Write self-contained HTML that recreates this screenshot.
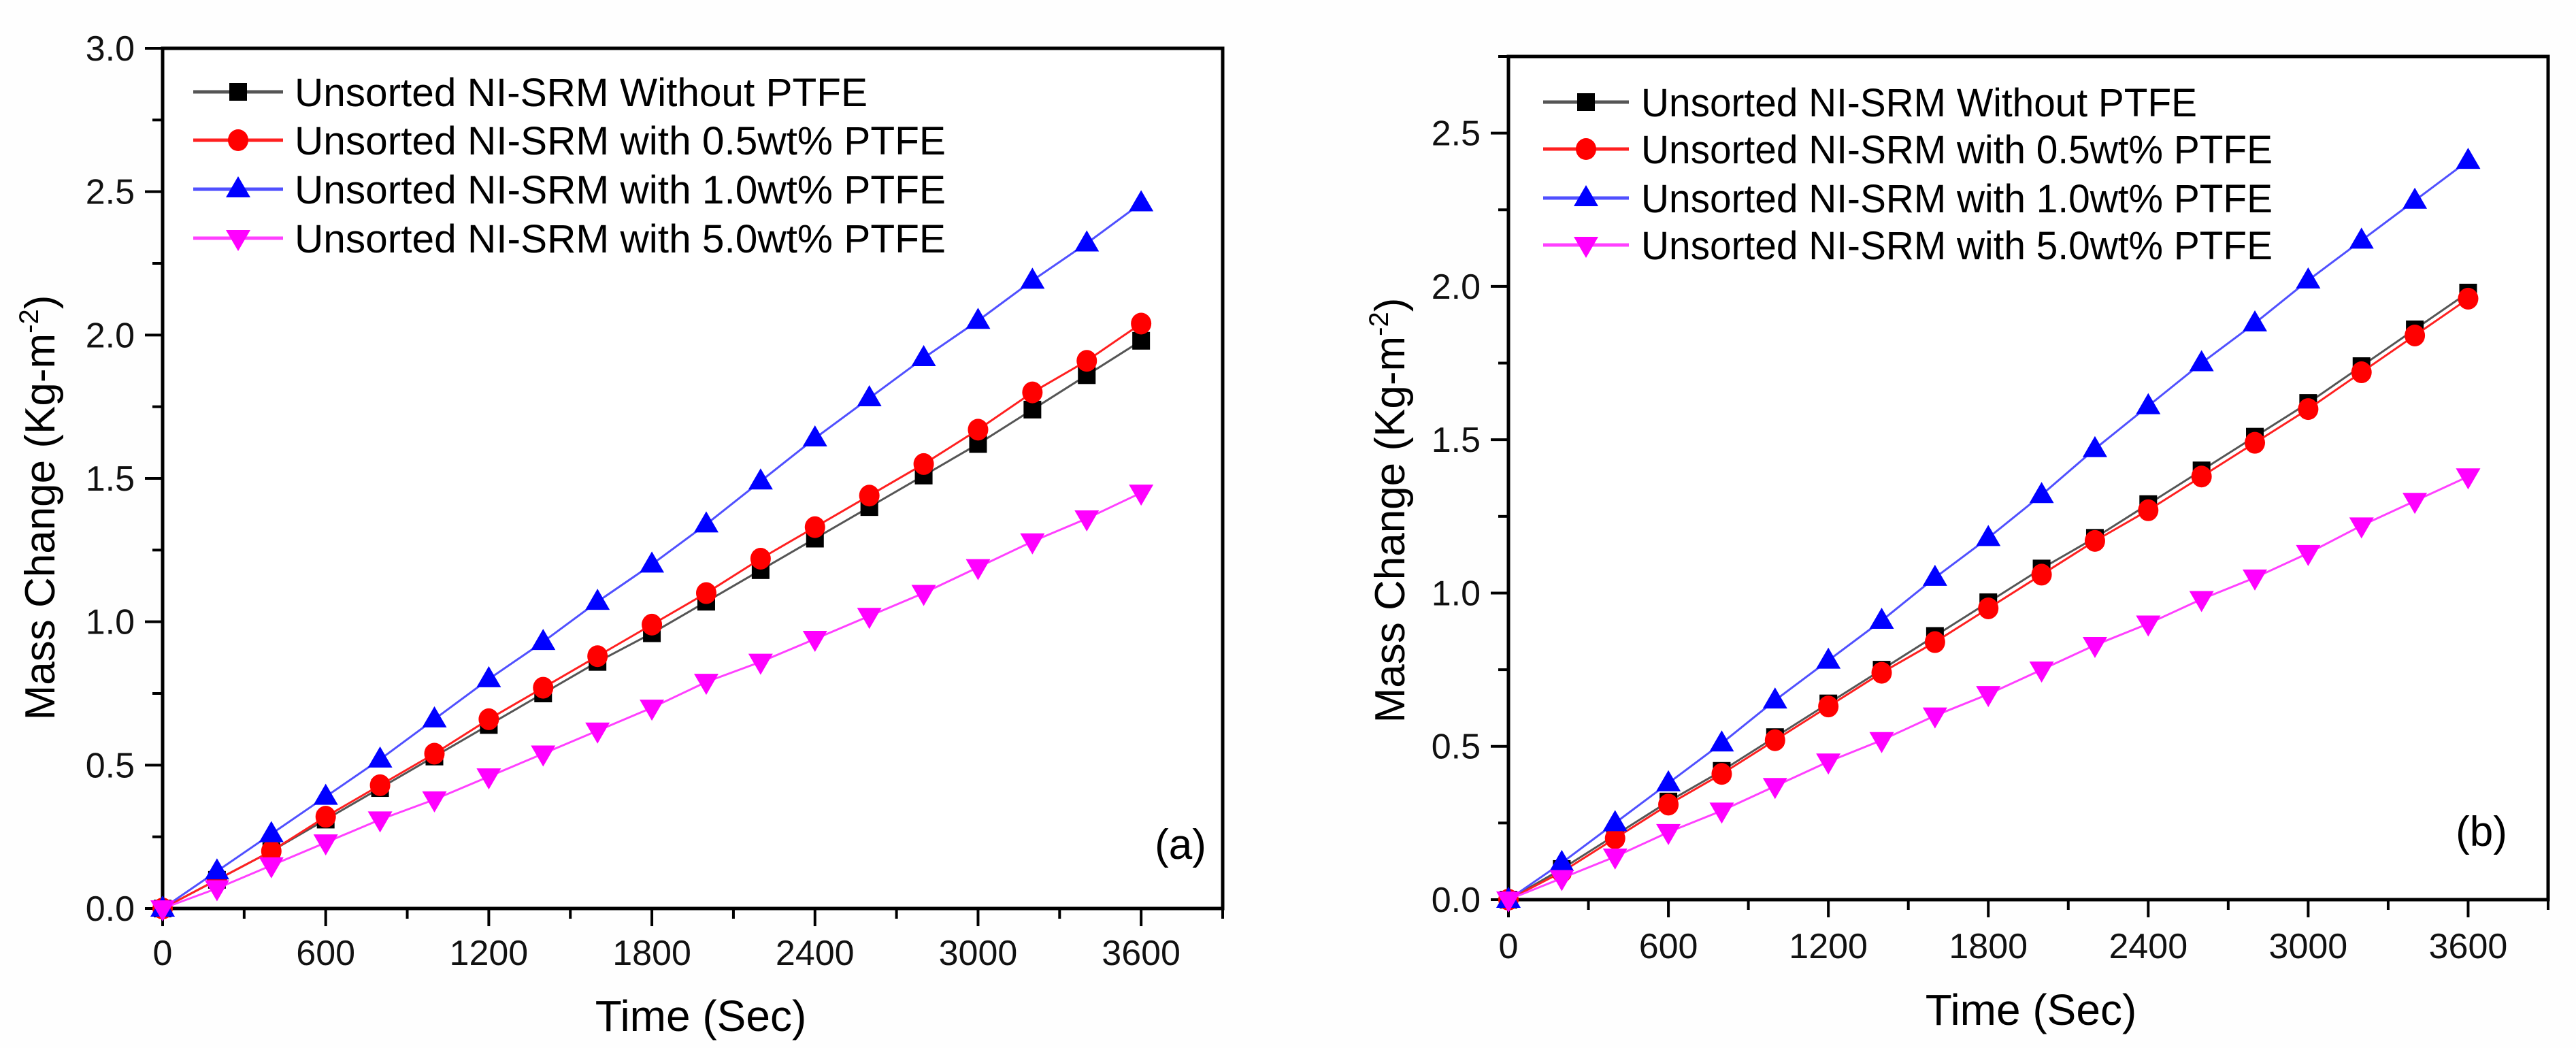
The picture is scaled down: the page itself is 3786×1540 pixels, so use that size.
<!DOCTYPE html>
<html><head><meta charset="utf-8">
<style>
html,body{margin:0;padding:0;background:#fff;}
svg{display:block;font-family:"Liberation Sans",Arial,sans-serif;}
</style></head>
<body>
<svg id="fig" width="3786" height="1540" viewBox="0 0 3786 1540" xmlns="http://www.w3.org/2000/svg">
<rect width="3786" height="1540" fill="#fefefe"/>
</svg>
<script>
const xValues = [0,200,400,600,800,1000,1200,1400,1600,1800,2000,2200,2400,2600,2800,3000,3200,3400,3600];
const xTicks = [0,600,1200,1800,2400,3000,3600];
const seriesNames = ["Unsorted NI-SRM Without PTFE","Unsorted NI-SRM with 0.5wt% PTFE","Unsorted NI-SRM with 1.0wt% PTFE","Unsorted NI-SRM with 5.0wt% PTFE"];
const aBlack = [0,0.10,0.20,0.31,0.42,0.53,0.64,0.75,0.86,0.96,1.07,1.18,1.29,1.40,1.51,1.62,1.74,1.86,1.98];
const aRed = [0,0.10,0.20,0.32,0.43,0.54,0.66,0.77,0.88,0.99,1.10,1.22,1.33,1.44,1.55,1.67,1.80,1.91,2.04];
const aBlue = [0,0.13,0.26,0.39,0.52,0.66,0.80,0.93,1.07,1.20,1.34,1.49,1.64,1.78,1.92,2.05,2.19,2.32,2.46];
const aMagenta = [0,0.07,0.15,0.23,0.31,0.38,0.46,0.54,0.62,0.70,0.79,0.86,0.94,1.02,1.10,1.19,1.28,1.36,1.45];
const bBlack = [0,0.10,0.21,0.32,0.42,0.53,0.64,0.75,0.86,0.97,1.08,1.18,1.29,1.40,1.51,1.62,1.74,1.86,1.98];
const bRed = [0,0.09,0.20,0.31,0.41,0.52,0.63,0.74,0.84,0.95,1.06,1.17,1.27,1.38,1.49,1.60,1.72,1.84,1.96];
const bBlue = [0,0.12,0.25,0.38,0.51,0.65,0.78,0.91,1.05,1.18,1.32,1.47,1.61,1.75,1.88,2.02,2.15,2.28,2.41];
const bMagenta = [0,0.07,0.14,0.22,0.29,0.37,0.45,0.52,0.60,0.67,0.75,0.83,0.90,0.98,1.05,1.13,1.22,1.30,1.38];
const aYTicks = ["0.0","0.5","1.0","1.5","2.0","2.5","3.0"];
const bYTicks = ["0.0","0.5","1.0","1.5","2.0","2.5"];

const NS="http://www.w3.org/2000/svg";
const svg=document.getElementById('fig');
function mk(tag,attrs,parent){const e=document.createElementNS(NS,tag);for(const k in attrs)e.setAttribute(k,attrs[k]);(parent||svg).appendChild(e);return e;}
const colors=["#000000","#ff0000","#0000ff","#ff00ff"];
const lineColors=["#555555","#ff2020","#5050ff","#ff40ff"];
const markerTypes=["square","circle","up","down"];

function marker(g,type,cx,cy,col){
  let e;
  if(type==="square") e=mk('rect',{x:cx-13,y:cy-13,width:26,height:26,fill:col},g);
  else if(type==="circle") e=mk('ellipse',{cx:cx,cy:cy,rx:15,ry:16,fill:col},g);
  else if(type==="up") e=mk('polygon',{points:`${cx},${cy-19} ${cx+18},${cy+12} ${cx-18},${cy+12}`,fill:col},g);
  else e=mk('polygon',{points:`${cx},${cy+19} ${cx+18},${cy-12} ${cx-18},${cy-12}`,fill:col},g);
  return e;
}

function panel(cfg){
  const g=mk('g',{});
  
  
  const X=v=>cfg.left+(v/3900)*(cfg.right-cfg.left);
  const Y=v=>cfg.bottom-(v/cfg.ymax)*(cfg.bottom-cfg.top);
  // frame
  const frame=mk('rect',{x:cfg.left,y:cfg.top,width:cfg.right-cfg.left,height:cfg.bottom-cfg.top,fill:"#fff",stroke:"#000","stroke-width":5},g);
  
  
  // x ticks
  for(let v=0;v<=3900;v+=300){
    const major=(v%600===0);
    mk('line',{x1:X(v),x2:X(v),y1:cfg.bottom,y2:cfg.bottom+(major?26:15),stroke:"#000","stroke-width":4},g);
  }
  xTicks.forEach(v=>{
    const t=mk('text',{x:X(v),y:cfg.xLabY,"font-size":52,"text-anchor":"middle",fill:"#111"},g);
    t.textContent=String(v);
    
    
  });
  // y ticks
  for(let v=0;v<=cfg.ymax+1e-9;v+=0.25){
    const major=(Math.abs(v*2-Math.round(v*2))<1e-6);
    mk('line',{x1:cfg.left,x2:cfg.left-(major?26:15),y1:Y(v),y2:Y(v),stroke:"#000","stroke-width":4},g);
  }
  cfg.yTicks.forEach(s=>{
    const t=mk('text',{x:cfg.yLabX,y:Y(parseFloat(s))+18,"font-size":52,"text-anchor":"end",fill:"#111"},g);
    t.textContent=s;
    
    
  });
  // titles
  const xt=mk('text',{x:cfg.xTitleX,y:cfg.xTitleY,"font-size":64,"text-anchor":"middle",fill:"#000"},g);
  xt.textContent="Time (Sec)";
  
  
  const yt=mk('text',{x:0,y:0,"font-size":62,"text-anchor":"middle",fill:"#000",transform:`translate(${cfg.yTitleX},${cfg.yTitleY}) rotate(-90)`},g);
  yt.innerHTML='Mass Change (Kg-m<tspan dy="-24" font-size="40">-2</tspan><tspan dy="24">)</tspan>';
  
  
  // series
  cfg.series.forEach((vals,i)=>{
    const sg=mk('g',{},g);
    
    
    const pts=xValues.map((x,j)=>X(x)+","+Y(vals[j])).join(" ");
    mk('polyline',{points:pts,fill:"none",stroke:lineColors[i],"stroke-width":3},sg);
    xValues.forEach((x,j)=>{
      const m=marker(sg,markerTypes[i],X(x),Y(vals[j]),colors[i]);
      
      
    });
  });
  // legend
  const lg=mk('g',{},g);
  
  
  seriesNames.forEach((n,i)=>{
    const y=cfg.legY[i];
    const eg=mk('g',{},lg);
    
    
    mk('line',{x1:cfg.legX1,x2:cfg.legX2,y1:y,y2:y,stroke:lineColors[i],"stroke-width":5},eg);
    marker(eg,markerTypes[i],(cfg.legX1+cfg.legX2)/2,y,colors[i]);
    const t=mk('text',{x:cfg.legTextX,y:y+21,"font-size":58,fill:"#000",textLength:cfg.legW[i],lengthAdjust:"spacingAndGlyphs"},eg);
    t.textContent=n;
  });
  const lab=mk('text',{x:cfg.tagX,y:cfg.tagY,"font-size":62,"text-anchor":"middle",fill:"#000"},g);
  lab.textContent=cfg.tag;
  
  
}

panel({name:'panel-a',left:239,right:1797,top:71,bottom:1335,ymax:3.0,yTicks:aYTicks,
  series:[aBlack,aRed,aBlue,aMagenta],xLabY:1418,yLabX:198,xTitleX:1030,xTitleY:1515,yTitleX:80,yTitleY:746,
  legY:[135,206,278,350],legX1:284,legX2:416,legTextX:433,legW:[842,957,957,957],tag:"(a)",tagX:1735,tagY:1262});
panel({name:'panel-b',left:2217,right:3745,top:83,bottom:1322,ymax:2.75,yTicks:bYTicks,
  series:[bBlack,bRed,bBlue,bMagenta],xLabY:1408,yLabX:2176,xTitleX:2985,xTitleY:1506,yTitleX:2064,yTitleY:750,
  legY:[150,219,291,360],legX1:2268,legX2:2394,legTextX:2412,legW:[817,928,928,928],tag:"(b)",tagX:3647,tagY:1243});
</script>
</body></html>
